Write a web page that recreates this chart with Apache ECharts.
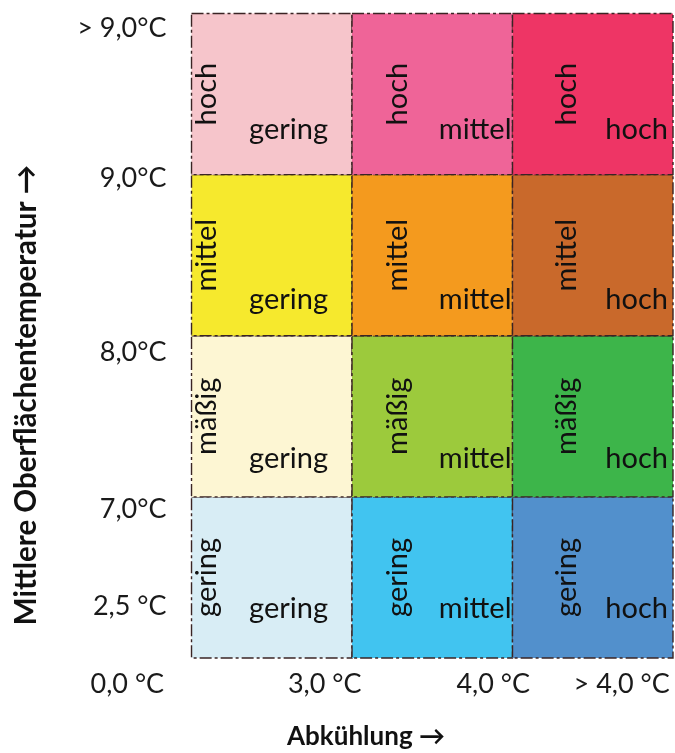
<!DOCTYPE html>
<html><head><meta charset="utf-8">
<script src="https://cdn.jsdelivr.net/npm/echarts@6/dist/echarts.min.js"></script>
<style>html,body{margin:0;padding:0;background:#fff}#c{width:675px;height:753px}</style>
</head><body><div id="c"></div>
<script>
// ---- data ----
const coolingClasses = ['gering', 'mittel', 'hoch'];          // x: Abkühlung (left → right)
const tempClasses = ['gering', 'mäßig', 'mittel', 'hoch'];    // y: Oberflächentemperatur (bottom → top)
const xTickLabels = ['0,0 °C', '3,0 °C', '4,0 °C', '> 4,0 °C']; // '0,0 °C' is the shared corner label
const xTickValues = [-0.4, 0.83, 1.88, 2.68];
const yTickLabels = ['2,5 °C', '7,0°C', '8,0°C', '9,0°C', '> 9,0°C'];
const yTickValues = [0.32, 0.92, 1.9, 2.98, 3.91];

// ---- styles ----
const cellColors = [ // rows bottom → top, columns left → right
  ['#d8edf5', '#41c4f0', '#5290cc'],
  ['#fdf6d3', '#9cca3c', '#3db54a'],
  ['#f6e92d', '#f49a1e', '#c9692b'],
  ['#f6c5cb', '#ef6498', '#ee3565']
];
const vInset = [15.5, 45.5, 54];
const hInsetRight = [24, 1, 5];
const hInsetBottom = [49, 38, 36.5, 44.5];
const FONT = 'Lato';

const cellData = [];
tempClasses.forEach((t, j) => coolingClasses.forEach((c, i) => cellData.push([i, j])));

function pickLabel(values, labels, v) {
  let best = 0, d = Infinity;
  values.forEach((x, k) => { const dd = Math.abs(x - v); if (dd < d) { d = dd; best = k; } });
  return labels[best];
}

const chart = echarts.init(document.getElementById('c'), null, { renderer: 'canvas' });
chart.setOption({
  backgroundColor: '#ffffff',
  animation: false,
  grid: { left: 119.3, right: 2, top: 13.5, bottom: 54.7, containLabel: false, outerBoundsMode: 'none' },
  xAxis: {
    type: 'value', min: -0.45, max: 3, offset: -40.3,
    axisLine: { show: false, onZero: false }, axisTick: { show: false }, splitLine: { show: false },
    axisLabel: {
      customValues: xTickValues, margin: 13, fontFamily: FONT, fontSize: 27, color: '#1a1a1a',
      formatter: v => pickLabel(xTickValues, xTickLabels, v)
    }
  },
  yAxis: {
    type: 'value', min: -0.25, max: 4, offset: -72.2,
    axisLine: { show: false, onZero: false }, axisTick: { show: false }, splitLine: { show: false },
    axisLabel: {
      customValues: yTickValues, margin: 25, fontFamily: FONT, fontSize: 27, color: '#1a1a1a',
      formatter: v => pickLabel(yTickValues, yTickLabels, v)
    }
  },
  graphic: [
    { type: 'text', x: 26, y: 395, rotation: Math.PI / 2,
      style: { text: 'Mittlere Oberflächentemperatur →', font: 'bold 29.5px ' + FONT, fill: '#111', align: 'center', verticalAlign: 'middle' } },
    { type: 'text', x: 366, y: 737,
      style: { text: 'Abkühlung →', font: 'bold 26px ' + FONT, fill: '#111', align: 'center', verticalAlign: 'middle' } }
  ],
  series: [{
    type: 'custom',
    data: cellData,
    clip: false,
    renderItem: function (params, api) {
      const i = api.value(0), j = api.value(1);
      const tl = api.coord([i, j + 1]);
      const br = api.coord([i + 1, j]);
      const w = br[0] - tl[0], h = br[1] - tl[1];
      return {
        type: 'group',
        children: [
          { type: 'rect', shape: { x: tl[0], y: tl[1], width: w, height: h },
            style: { fill: cellColors[j][i], stroke: '#3a2424', lineWidth: 1.4, lineDash: [12, 3, 3, 3] } },
          { type: 'text', x: tl[0] + vInset[i], y: tl[1] + h / 2, rotation: Math.PI / 2,
            style: { text: tempClasses[j], font: '29px ' + FONT, fill: '#111', align: 'center', verticalAlign: 'middle' } },
          { type: 'text', x: br[0] - hInsetRight[i], y: br[1] - hInsetBottom[j],
            style: { text: coolingClasses[i], font: '29px ' + FONT, fill: '#111', align: 'right', verticalAlign: 'middle' } }
        ]
      };
    }
  }]
});
</script>
</body></html>
